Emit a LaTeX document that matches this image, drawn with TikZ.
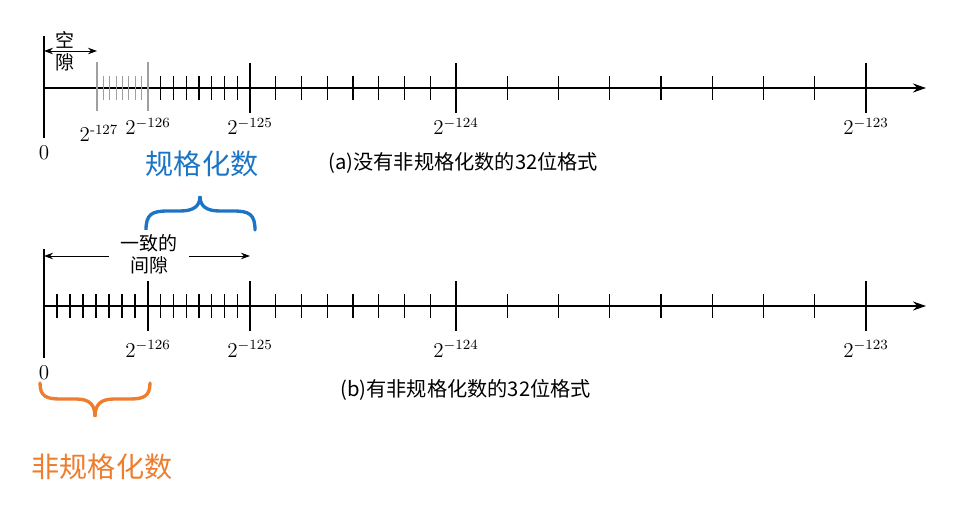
\documentclass[tikz,border=0pt]{standalone}
\usepackage{amsmath}
\usepackage{fontspec}
\newfontfamily\cjk{Noto Sans CJK SC}
\usepackage{tikz}
\usetikzlibrary{arrows.meta,positioning,calc}
\definecolor{sblue}{HTML}{1B75C4}
\definecolor{sorange}{HTML}{EE7D2E}
\tikzset{
  axisline/.style={line width=1.1pt, -{Stealth[length=2.6mm, width=1.8mm]}},
  zeroline/.style={line width=1pt},
  majortick/.style={line width=0.8pt},
  minortick/.style={line width=0.75pt},
  graytick/.style={line width=0.6pt, gray!75},
  ticklab/.style={font=\fontsize{12}{14}\selectfont, inner sep=0pt, anchor=base},
  gaparrow/.style={line width=0.5pt, -{Stealth[length=1.8mm, width=1.3mm]}},
  gapboth/.style={line width=0.5pt, {Stealth[length=1.8mm, width=1.3mm]}-{Stealth[length=1.8mm, width=1.3mm]}},
  gaptext/.style={font={\cjk\fontsize{10.8}{12.5}\selectfont}, align=center},
  figcap/.style={font={\cjk\fontsize{11.5}{14}\selectfont}, anchor=west, inner sep=0pt},
  bigcap/.style={font={\cjk\fontsize{16}{18}\selectfont}, inner sep=0pt},
  brace/.style={line width=1.9pt, line cap=round},
}

\begin{document}
\begin{tikzpicture}[x=0.2mm, y=-0.2mm]
\useasboundingbox (0,0) rectangle (964,509);
\def\ya{88}
\def\yb{306}

% (a) without denormals
\coordinate (zA) at (44,\ya);
\coordinate (endA) at (926,\ya);
\draw[axisline] (zA) -- (endA);
\draw[zeroline] (44,36) -- (44,138);
\foreach \m in {97,148} \draw[graytick] (\m,{\ya-26}) -- (\m,{\ya+23});
\foreach \i in {1,...,7} \draw[graytick] ({97+\i*51/8},{\ya-12}) -- ++(0,24);
\foreach \a/\b in {148/250, 250/456, 456/866} {
  \foreach \i in {1,...,7} \draw[minortick] ({\a+\i*(\b-\a)/8},{\ya-12}) -- ++(0,24);
}
\foreach \m in {250,456,866} \draw[majortick] (\m,{\ya-25}) -- (\m,{\ya+25});
\node[ticklab] (a127) at (99,142) {$2^{\text{-}127}$};
\node[ticklab] (a126) at (148,135) {$2^{-126}$};
\node[ticklab] (a125) at (250,135) {$2^{-125}$};
\node[ticklab] (a124) at (456,135) {$2^{-124}$};
\node[ticklab] (a123) at (866,135) {$2^{-123}$};
\node[font=\fontsize{12}{14}\selectfont, inner sep=0pt] (a0) at (44,153) {0};

\coordinate (gapL) at (44,51);
\coordinate (gapR) at (97,51);
\draw[gapboth] (gapL) -- (gapR);
\node[gaptext] (gapA) at (65,51) {空\\隙};

\node[figcap] (capA) at (328,163) {(a)没有非规格化数的32位格式};
\node[bigcap, sblue] (normlab) at (202,164) {规格化数};
\draw[brace, sblue] (146,230) .. controls (146,214) and (152,211) .. (168,211)
  -- (180,211) .. controls (194,211) and (200,206) .. (200,196)
  .. controls (200,206) and (206,211) .. (220,211) -- (233,211)
  .. controls (249,211) and (255,214) .. (255,230);

% (b) with denormals
\coordinate (zB) at (44,\yb);
\coordinate (endB) at (926,\yb);
\draw[axisline] (zB) -- (endB);
\draw[zeroline] (44,249) -- (44,358);
\foreach \a/\b in {44/148, 148/250, 250/456, 456/866} {
  \foreach \i in {1,...,7} \draw[minortick] ({\a+\i*(\b-\a)/8},{\yb-12}) -- ++(0,24);
}
\foreach \m in {148,250,456,866} \draw[majortick] (\m,{\yb-25}) -- (\m,{\yb+25});
\node[ticklab] (b126) at (148,357) {$2^{-126}$};
\node[ticklab] (b125) at (250,357) {$2^{-125}$};
\node[ticklab] (b124) at (456,357) {$2^{-124}$};
\node[ticklab] (b123) at (866,357) {$2^{-123}$};
\node[font=\fontsize{12}{14}\selectfont, inner sep=0pt] (b0) at (44,373) {0};

\coordinate (uniL) at (44,256);
\coordinate (uniR) at (250,256);
\node[gaptext, fill=white, inner xsep=2.3mm, inner ysep=0.8mm] (gapB) at (149,254) {一致的\\间隙};
\draw[gaparrow] (gapB.west |- uniL) -- (uniL);
\draw[gaparrow] (gapB.east |- uniR) -- (uniR);

\node[figcap] (capB) at (340,390) {(b)有非规格化数的32位格式};
\draw[brace, sorange] (40,383) .. controls (40,396) and (46,399) .. (60,399)
  -- (76,399) .. controls (90,399) and (95,405) .. (95,417)
  .. controls (95,405) and (100,399) .. (114,399) -- (130,399)
  .. controls (144,399) and (150,396) .. (150,383);
\node[bigcap, sorange] (denormlab) at (102,467) {非规格化数};
\end{tikzpicture}
\end{document}
